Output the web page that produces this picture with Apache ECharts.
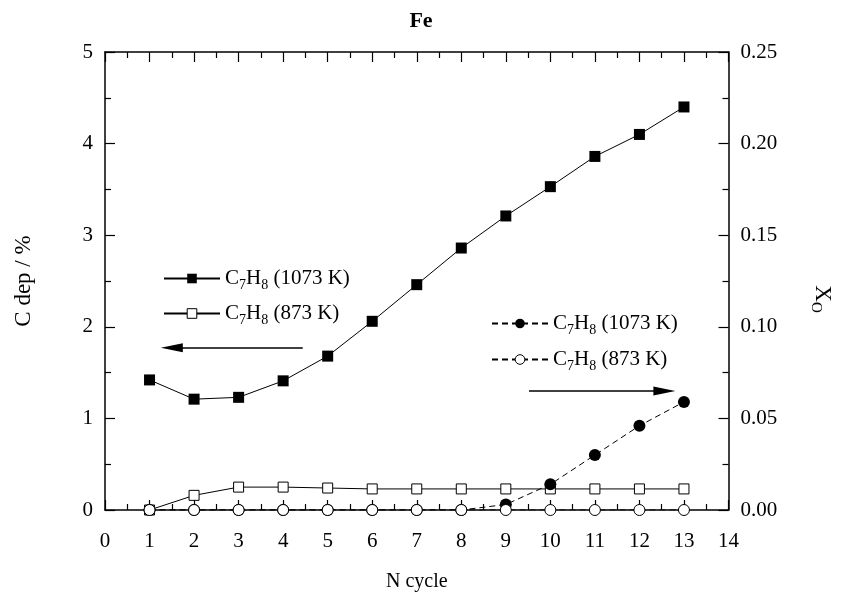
<!DOCTYPE html>
<html>
<head>
<meta charset="utf-8">
<script src="https://cdn.jsdelivr.net/npm/echarts@6/dist/echarts.min.js"></script>
<style>
  html, body { margin: 0; padding: 0; background: #fff; }
  #main { width: 842px; height: 608px; }
</style>
</head>
<body>
<div id="main"></div>
<script>
// data
var cycles = [1, 2, 3, 4, 5, 6, 7, 8, 9, 10, 11, 12, 13];
var cdep1073 = [1.42, 1.21, 1.23, 1.41, 1.68, 2.06, 2.46, 2.86, 3.21, 3.53, 3.86, 4.10, 4.40];
var cdep873 = [0, 0.16, 0.25, 0.25, 0.24, 0.23, 0.23, 0.23, 0.23, 0.23, 0.23, 0.23, 0.23];
var xo1073 = [0, 0, 0, 0, 0, 0, 0, 0, 0.003, 0.014, 0.030, 0.046, 0.059];
var xo873 = [0, 0, 0, 0, 0, 0, 0, 0, 0, 0, 0, 0, 0];
var xTicks = [0, 14, 1];
var yLeftTicks = [0, 5, 1];
var yRightTicks = [0, 0.25, 0.05];

// arrows (in left-axis data units), end point = middle of the head
var arrowLeft = [[4.44, 1.77], [1.50, 1.77]];
var arrowRight = [[9.52, 1.30], [12.56, 1.30]];

var FONT = "Liberation Serif";

function pairs(xs, ys) {
  return xs.map(function (x, i) { return [x, ys[i]]; });
}

// legend labels with subscripts
var legendText = {
  "s1073": "{n|C}{s|7}{n|H}{s|8}{n| (1073 K)}",
  "s873": "{n|C}{s|7}{n|H}{s|8}{n| (873 K)}",
  "d1073": "{n|C}{s|7}{n|H}{s|8}{n| (1073 K)}",
  "d873": "{n|C}{s|7}{n|H}{s|8}{n| (873 K)}"
};
var richText = {
  n: { fontFamily: FONT, fontSize: 21, color: "#000" },
  s: { fontFamily: FONT, fontSize: 14, color: "#000", padding: [13, 0, 0, 0] }
};

var myChart = echarts.init(document.getElementById("main"));

var tickCommon = {
  axisLine: { show: true, onZero: false, lineStyle: { color: "#000", width: 1.5 } },
  axisTick: { show: true, inside: true, length: 10, lineStyle: { color: "#000", width: 1.2 } },
  minorTick: { show: true, splitNumber: 2, length: 6, lineStyle: { color: "#000", width: 1.2 } },
  splitLine: { show: false },
  minorSplitLine: { show: false }
};

var option = {
  animation: false,
  backgroundColor: "#fff",
  title: {
    text: "Fe",
    left: "center",
    top: 5,
    textStyle: { fontFamily: FONT, fontSize: 22, fontWeight: "bold", color: "#000" }
  },
  grid: { left: 105, right: 112, top: 52, bottom: 98 },
  legend: [
    {
      data: ["s1073", "s873"],
      orient: "vertical",
      left: 158,
      top: 263,
      itemWidth: 56,
      itemHeight: 12,
      itemGap: 11,
      itemStyle: { borderWidth: 1 },
      formatter: function (name) { return legendText[name]; },
      textStyle: { rich: richText },
      selectedMode: false
    },
    {
      data: ["d1073", "d873"],
      orient: "vertical",
      left: 486,
      top: 308,
      itemWidth: 56,
      itemHeight: 12,
      itemGap: 12,
      itemStyle: { borderWidth: 1 },
      formatter: function (name) { return legendText[name]; },
      textStyle: { rich: richText },
      selectedMode: false
    }
  ],
  xAxis: [
    Object.assign({
      type: "value",
      position: "bottom",
      min: xTicks[0],
      max: xTicks[1],
      interval: xTicks[2],
      name: "N cycle",
      nameLocation: "middle",
      nameGap: 62,
      nameTextStyle: { fontFamily: FONT, fontSize: 20, color: "#000" },
      axisLabel: { fontFamily: FONT, fontSize: 21, color: "#000", margin: 21 }
    }, tickCommon),
    Object.assign({
      type: "value",
      position: "top",
      min: xTicks[0],
      max: xTicks[1],
      interval: xTicks[2],
      axisLabel: { show: false }
    }, tickCommon)
  ],
  yAxis: [
    Object.assign({
      type: "value",
      position: "left",
      min: yLeftTicks[0],
      max: yLeftTicks[1],
      interval: yLeftTicks[2],
      name: "C dep / %",
      nameLocation: "middle",
      nameRotate: 90,
      nameGap: 70,
      nameTextStyle: { fontFamily: FONT, fontSize: 23, color: "#000" },
      axisLabel: { fontFamily: FONT, fontSize: 21, color: "#000", margin: 12 }
    }, tickCommon),
    Object.assign({
      type: "value",
      position: "right",
      min: yRightTicks[0],
      max: yRightTicks[1],
      interval: yRightTicks[2],
      name: "{n|X}{s|O}",
      nameLocation: "middle",
      nameRotate: -90,
      nameGap: 80,
      nameTextStyle: {
        padding: [0, 0, 0, 36],
        rich: {
          n: { fontFamily: FONT, fontSize: 23, color: "#000" },
          s: { fontFamily: FONT, fontSize: 15, color: "#000", padding: [13, 0, 0, 0] }
        }
      },
      axisLabel: {
        fontFamily: FONT, fontSize: 21, color: "#000", margin: 12,
        formatter: function (v) { return v.toFixed(2); }
      }
    }, tickCommon)
  ],
  series: [
    {
      name: "s1073",
      type: "line",
      xAxisIndex: 0,
      yAxisIndex: 0,
      data: pairs(cycles, cdep1073),
      symbol: "rect",
      symbolSize: 11,
      itemStyle: { color: "#000" },
      lineStyle: { color: "#000", width: 1 },
      markLine: {
        silent: true,
        symbol: ["none", "triangle"],
        label: { show: false },
        lineStyle: { color: "#000", width: 1.5, type: "solid" },
        data: [
          [
            { coord: arrowLeft[0], symbol: "none" },
            { coord: arrowLeft[1], symbol: "triangle", symbolSize: [9, 22] }
          ],
          [
            { coord: arrowRight[0], symbol: "none" },
            { coord: arrowRight[1], symbol: "triangle", symbolSize: [9, 22] }
          ]
        ]
      }
    },
    {
      name: "s873",
      type: "line",
      xAxisIndex: 0,
      yAxisIndex: 0,
      data: pairs(cycles, cdep873),
      symbol: "rect",
      symbolSize: 10,
      itemStyle: { color: "#fff", borderColor: "#000", borderWidth: 1 },
      lineStyle: { color: "#000", width: 1 }
    },
    {
      name: "d1073",
      type: "line",
      xAxisIndex: 0,
      yAxisIndex: 1,
      data: pairs(cycles, xo1073),
      symbol: "circle",
      symbolSize: 12,
      itemStyle: { color: "#000" },
      lineStyle: { color: "#000", width: 1, type: [6, 4] }
    },
    {
      name: "d873",
      type: "line",
      xAxisIndex: 0,
      yAxisIndex: 1,
      data: pairs(cycles, xo873),
      symbol: "circle",
      symbolSize: 11,
      itemStyle: { color: "#fff", borderColor: "#000", borderWidth: 1 },
      lineStyle: { color: "#000", width: 1, type: [6, 4] }
    }
  ]
};

myChart.setOption(option);
</script>
</body>
</html>
